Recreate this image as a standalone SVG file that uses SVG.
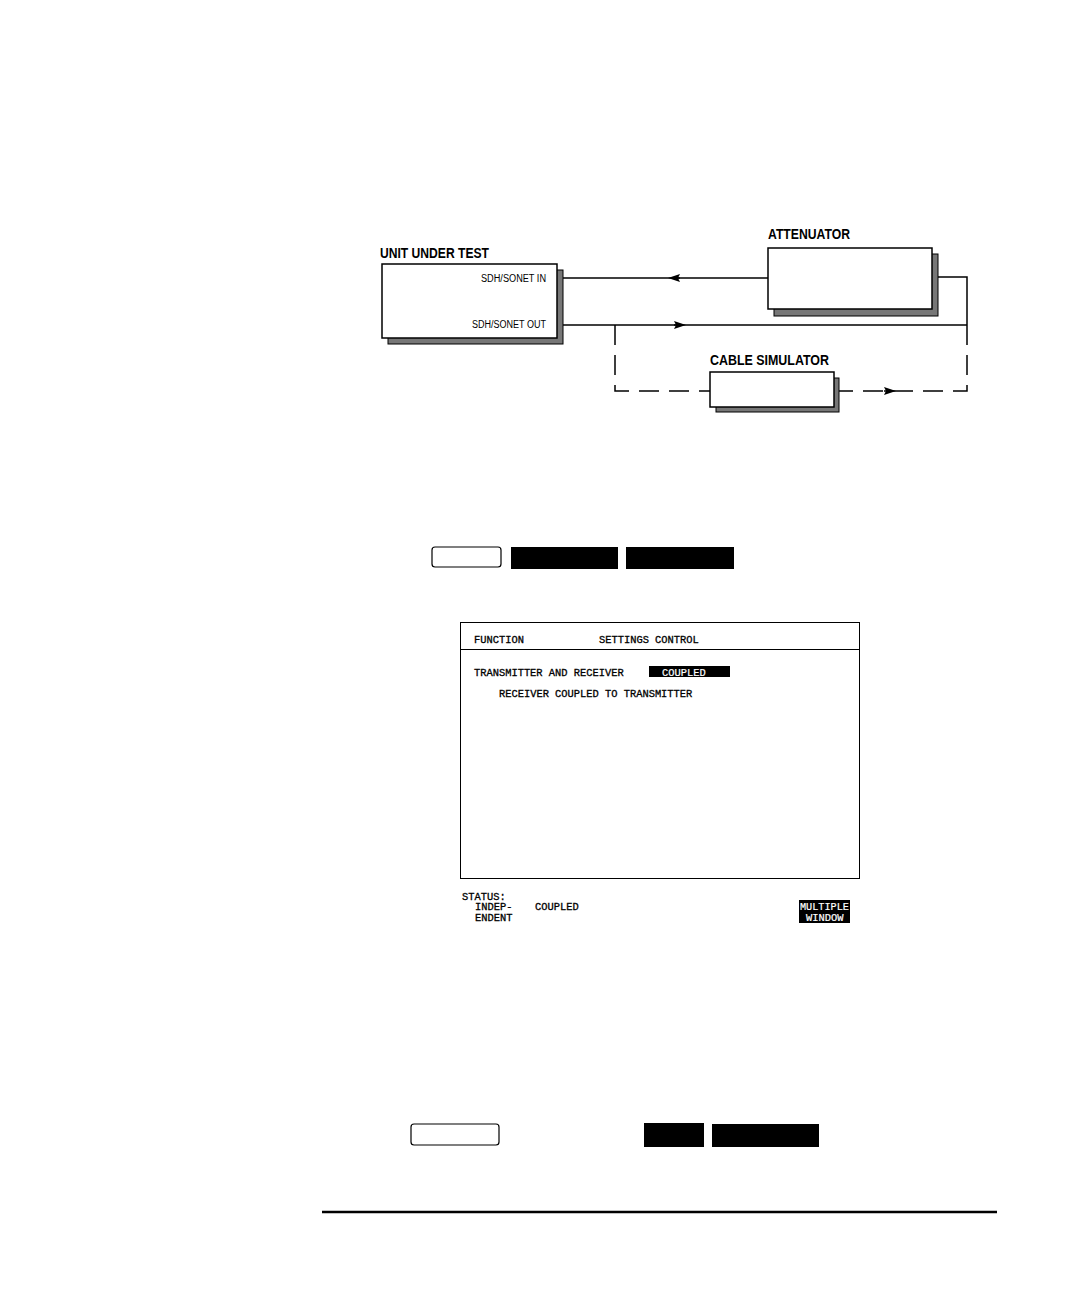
<svg xmlns="http://www.w3.org/2000/svg" width="1080" height="1296" viewBox="0 0 1080 1296">
<defs>
<style>
.lbl{font-family:"Liberation Sans",Arial,sans-serif;font-weight:bold;font-size:14px;fill:#000}
.port{font-family:"Liberation Sans",Arial,sans-serif;font-size:10px;fill:#000}
.scr{font-family:"Liberation Mono","DejaVu Sans Mono",monospace;font-size:10.4px;fill:#000;stroke:#000;stroke-width:0.3}
.inv{fill:#fff;stroke:#fff;stroke-width:0.2}
.box{fill:#fff;stroke:#000;stroke-width:1.5}
.shadow{fill:#777;stroke:#000;stroke-width:1}
.ln{fill:none;stroke:#000;stroke-width:1.5}
.dash{fill:none;stroke:#000;stroke-width:1.5;stroke-dasharray:20 10}
.key{fill:#fff;stroke:#000;stroke-width:1.2}
.blk{fill:#000}
</style>
<marker id="arr" viewBox="0 0 12 10" refX="6" refY="5" markerWidth="12" markerHeight="10" markerUnits="userSpaceOnUse" orient="auto">
<path d="M0,1 L12,5 L0,9 L2,5 Z" fill="#000"/>
</marker>
</defs>
<rect width="1080" height="1296" fill="#fff"/>

<g id="connectors">
<line class="ln" x1="563" y1="278" x2="768" y2="278"/>
<line class="ln" x1="680" y1="278" x2="674" y2="278" marker-end="url(#arr)"/>
<line class="ln" x1="563" y1="325" x2="967" y2="325"/>
<line class="ln" x1="674" y1="325" x2="680" y2="325" marker-end="url(#arr)"/>
<polyline class="ln" points="938,277 967,277 967,325"/>
<polyline class="dash" points="967,325 967,391 839,391"/>
<polyline class="dash" points="615,325 615,391 710,391"/>
<line class="ln" x1="884" y1="391" x2="890" y2="391" marker-end="url(#arr)"/>
</g>

<g id="uut">
<rect class="shadow" x="388" y="270" width="175" height="74"/>
<rect class="box" x="382" y="264" width="175" height="74"/>
<text class="lbl" x="380" y="258" textLength="109" lengthAdjust="spacingAndGlyphs">UNIT UNDER TEST</text>
<text class="port" x="546" y="282" text-anchor="end" textLength="65" lengthAdjust="spacingAndGlyphs">SDH/SONET IN</text>
<text class="port" x="546" y="328" text-anchor="end" textLength="74" lengthAdjust="spacingAndGlyphs">SDH/SONET OUT</text>
</g>

<g id="attenuator">
<rect class="shadow" x="774" y="254" width="164" height="62"/>
<rect class="box" x="768" y="248" width="164" height="61"/>
<text class="lbl" x="768" y="239" textLength="82" lengthAdjust="spacingAndGlyphs">ATTENUATOR</text>
</g>

<g id="cable-simulator">
<rect class="shadow" x="716" y="378" width="123" height="34"/>
<rect class="box" x="710" y="372" width="124" height="35"/>
<text class="lbl" x="710" y="365" textLength="119" lengthAdjust="spacingAndGlyphs">CABLE SIMULATOR</text>
</g>

<g id="keys-top">
<rect class="key" x="432" y="547" width="69" height="20" rx="3"/>
<rect class="blk" x="511" y="547" width="107" height="22"/>
<rect class="blk" x="626" y="547" width="108" height="22"/>
</g>

<g id="screen">
<rect x="460.5" y="622.5" width="399" height="256" fill="#fff" stroke="#000" stroke-width="1"/>
<line x1="460" y1="649.5" x2="860" y2="649.5" stroke="#000" stroke-width="1"/>
<text class="scr" x="474" y="643">FUNCTION</text>
<text class="scr" x="599" y="643">SETTINGS CONTROL</text>
<text class="scr" x="474" y="676">TRANSMITTER AND RECEIVER</text>
<rect class="blk" x="649" y="666" width="81" height="11"/>
<text class="scr inv" x="662" y="676">COUPLED</text>
<text class="scr" x="499" y="697">RECEIVER COUPLED TO TRANSMITTER</text>
</g>

<g id="status">
<text class="scr" x="462" y="900">STATUS:</text>
<text class="scr" x="475" y="910">INDEP-</text>
<text class="scr" x="475" y="921">ENDENT</text>
<text class="scr" x="535" y="910">COUPLED</text>
<rect class="blk" x="799" y="900" width="51" height="23"/>
<text class="scr inv" x="800" y="910" textLength="49" lengthAdjust="spacingAndGlyphs">MULTIPLE</text>
<text class="scr inv" x="806" y="921">WINDOW</text>
</g>

<g id="keys-bottom">
<rect class="key" x="411" y="1124" width="88" height="21" rx="3"/>
<rect class="blk" x="644" y="1123" width="60" height="24"/>
<rect class="blk" x="712" y="1124" width="107" height="23"/>
</g>

<line x1="322" y1="1212" x2="997" y2="1212" stroke="#000" stroke-width="2.5"/>
</svg>
